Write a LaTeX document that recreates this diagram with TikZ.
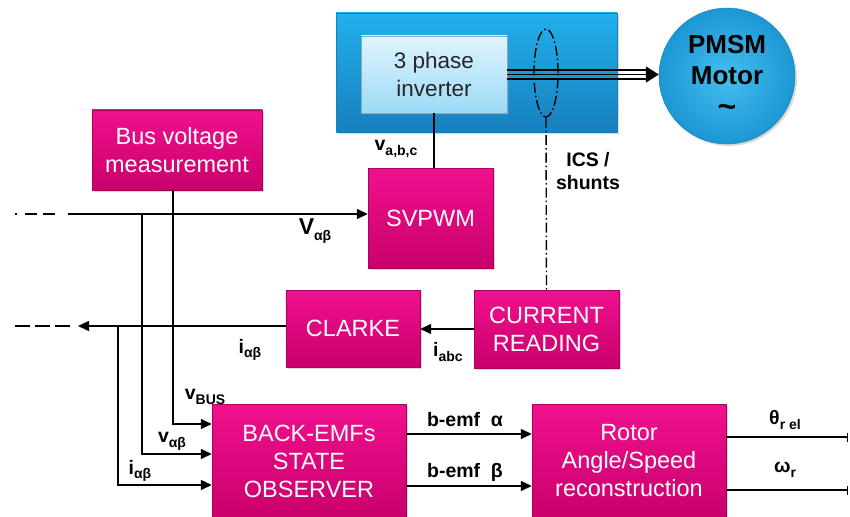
\documentclass[tikz,border=0pt]{standalone}
\usepackage{fontspec}
\setmainfont{Liberation Sans}
\usetikzlibrary{arrows.meta, shadows, shapes.geometric}
\definecolor{pinktop}{HTML}{F0108E}
\definecolor{pinkbot}{HTML}{C9006C}
\definecolor{drivetop}{HTML}{22B0EC}
\definecolor{drivebot}{HTML}{1680BD}
\definecolor{invtop}{HTML}{E0F4FD}
\definecolor{invbot}{HTML}{9CDAF7}
\definecolor{motorin}{HTML}{45BEEE}
\definecolor{motorout}{HTML}{1B97D4}
\newcommand{\lowsub}[1]{\raisebox{-0.45ex}{\fontsize{14}{14}\selectfont #1}}

\begin{document}
\begin{tikzpicture}[x=1pt, y=-1pt,
  block/.style={rectangle, top color=pinktop, bottom color=pinkbot,
                draw=pinkbot!85!black, line width=0.4pt, text=white,
                font=\fontsize{23.5}{28}\selectfont, align=center, inner sep=0pt,
                drop shadow={opacity=0.3, shadow xshift=2pt, shadow yshift=-2pt}},
  lbl/.style={font=\bfseries\fontsize{19.5}{23}\selectfont, inner sep=0pt, align=center},
  wire/.style={line width=1.4pt},
  arr/.style={wire, -{Triangle[length=11pt, width=10pt]}},
  outl/.style={wire, -{Bar[width=9pt]}},
  dashdot/.style={wire, dash pattern=on 10pt off 3pt on 1.5pt off 3pt}]
  \useasboundingbox (0,0) rectangle (850,516);
  % power stage
  \node[rectangle, top color=drivetop, bottom color=drivebot, draw=drivebot,
        minimum width=281, minimum height=119,
        drop shadow={opacity=0.3, shadow xshift=2pt, shadow yshift=-2pt}]
    (drive) at (476.5,72.5) {};
  \node[rectangle, top color=invtop, bottom color=invbot, draw=invbot!80!black,
        line width=0.4pt, minimum width=146, minimum height=77, align=center,
        font=\fontsize{22.5}{28}\selectfont, text=black!85,
        drop shadow={opacity=0.3, shadow xshift=2pt, shadow yshift=-2pt}]
    (inv) at (434,74.5) {3 phase\\inverter};
  \node[circle, inner color=motorin, outer color=motorout, draw=motorout!85!black,
        minimum size=136, align=center, font=\bfseries\fontsize{26}{31}\selectfont,
        drop shadow={opacity=0.3, shadow xshift=2pt, shadow yshift=-2pt}]
    (motor) at (727,76) {PMSM\\Motor\\[2pt]{\fontsize{32}{32}\selectfont\textasciitilde}};
  \node[ellipse, draw, dashdot, minimum width=24, minimum height=88, inner sep=0pt]
    (ct) at (546,73) {};
  % control blocks
  \node[block, minimum width=170, minimum height=80] (busv) at (177,150)
    {Bus voltage\\measurement};
  \node[block, minimum width=125, minimum height=100] (svpwm) at (430.5,218) {SVPWM};
  \node[block, minimum width=134, minimum height=77] (clarke) at (353,328.5) {CLARKE};
  \node[block, minimum width=145, minimum height=78] (curr) at (546.5,329)
    {CURRENT\\READING};
  \node[block, minimum width=194, minimum height=114] (obs) at (309,461)
    {BACK-EMFs\\STATE\\OBSERVER};
  \node[block, minimum width=194, minimum height=114] (rotor) at (629,461)
    {Rotor\\Angle/Speed\\reconstruction};
  % free ends and taps
  \coordinate (vin) at (15,214);
  \coordinate (vsolid) at (68,214);
  \coordinate (tapv) at (142,214);
  \coordinate (iout) at (15,326);
  \coordinate (itip) at (78,326);
  \coordinate (tapi) at (118,326);
  \coordinate (thetaout) at (848,437);
  \coordinate (omegaout) at (848,490);
  % three phases to the motor
  \draw[wire, -{Triangle[length=13pt, width=16pt]}] (inv.east) -- (inv.east -| motor.west);
  \draw[wire] ([yshift=4.5pt]inv.east) -- ([yshift=4.5pt, xshift=-10pt]inv.east -| motor.west);
  \draw[wire] ([yshift=-4.5pt]inv.east) -- ([yshift=-4.5pt, xshift=-10pt]inv.east -| motor.west);
  \draw[wire] (inv.south) -- (inv.south |- svpwm.north);
  \draw[dashdot] (ct.south) -- (curr.north);
  % voltage reference and current feedback
  \draw[wire, dash pattern=on 2pt off 8pt on 12pt off 6pt on 12pt off 13pt] (vin) -- (vsolid);
  \draw[arr] (vsolid) -- (vsolid -| svpwm.west);
  \draw[arr] (curr.west) -- (curr.west -| clarke.east);
  \draw[arr] (clarke.west |- itip) -- (itip);
  \draw[wire, dash pattern=on 15pt off 5pt] (iout) -- (70,326);
  % observer inputs
  \draw[arr] ([xshift=-4pt]busv.south) |- ([yshift=37pt]obs.west);
  \draw[arr] (tapv) |- ([yshift=7pt]obs.west);
  \draw[arr] (tapi) |- ([yshift=-24pt]obs.west);
  % observer to reconstruction, outputs
  \draw[arr] ([yshift=27pt]obs.east) -- ([yshift=27pt]rotor.west);
  \draw[arr] ([yshift=-25pt]obs.east) -- ([yshift=-25pt]rotor.west);
  \draw[outl] ([yshift=24pt]rotor.east) -- (thetaout);
  \draw[outl] ([yshift=-29pt]rotor.east) -- (omegaout);
  % labels
  \node[lbl] (lvabc) at (396,149) {v\lowsub{a,b,c}};
  \node[lbl] (lics) at (588,171) {ICS /\\shunts};
  \node[lbl, font=\bfseries\fontsize{23}{24}\selectfont] (lvab) at (315,231)
    {V\lowsub{αβ}};
  \node[lbl] (liab) at (250,350) {i\lowsub{αβ}};
  \node[lbl] (liabc) at (448,352) {i\lowsub{abc}};
  \node[lbl] (lvbus) at (205,397) {v\lowsub{BUS}};
  \node[lbl] (lvobs) at (172,441) {v\lowsub{αβ}};
  \node[lbl] (liobs) at (140,471) {i\lowsub{αβ}};
  \node[lbl] (lemfa) at (465,420) {b-emf\ \ α};
  \node[lbl] (lemfb) at (465,472) {b-emf\ \ β};
  \node[lbl] (ltheta) at (785,420) {θ\lowsub{r el}};
  \node[lbl] (lomega) at (785,470) {ω\lowsub{r}};
\end{tikzpicture}
\end{document}
